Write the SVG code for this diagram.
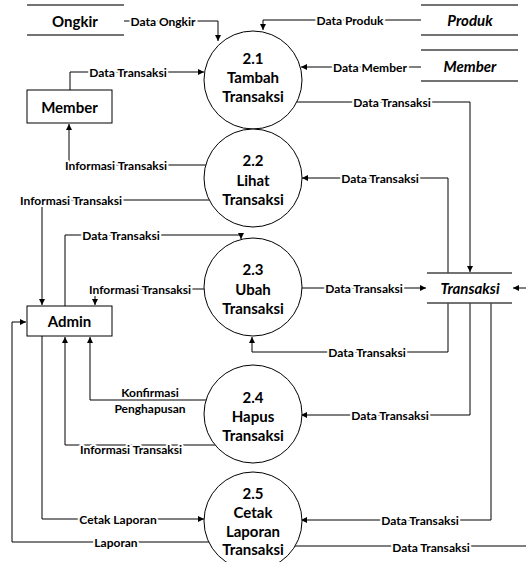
<svg xmlns="http://www.w3.org/2000/svg" width="526" height="562" viewBox="0 0 526 562">
  <defs>
    <marker id="arrow" markerUnits="userSpaceOnUse" markerWidth="6" markerHeight="6" refX="6" refY="3" orient="auto">
      <path d="M0,0 L6,3 L0,6 z" fill="#000"/>
    </marker>
    <style>
      .flow { fill: none; stroke: #000; stroke-width: 1; }
      .arr { marker-end: url(#arrow); }
      .lbl { font-family: Lato, "Liberation Sans", sans-serif; font-weight: bold; font-size: 12px; fill: #000;
             text-anchor: middle; dominant-baseline: central; stroke: #fff; stroke-width: 4px; paint-order: stroke; stroke-linejoin: round; }
      .proc circle { fill: #fff; stroke: #000; stroke-width: 1; }
      .ptxt { font-family: Lato, "Liberation Sans", sans-serif; font-weight: bold; font-size: 15px; fill: #000;
              text-anchor: middle; dominant-baseline: central; }
      .ent rect { fill: #fff; stroke: #000; stroke-width: 1; }
      .store line { stroke: #444; stroke-width: 1.4; }
      .stxt { font-family: Lato, "Liberation Sans", sans-serif; font-weight: bold; font-style: italic; font-size: 15px;
              fill: #000; text-anchor: middle; dominant-baseline: central; }
    </style>
  </defs>
  <rect width="526" height="562" fill="#fff"/>

  <!-- data flows -->
  <g id="connectors">
    <path class="flow arr" d="M124,21 H218 V41"/>
    <text class="lbl" x="163" y="21">Data Ongkir</text>

    <path class="flow arr" d="M421,20 H263 V30"/>
    <text class="lbl" x="350" y="20">Data Produk</text>

    <path class="flow arr" d="M421,67 H301"/>
    <text class="lbl" x="370" y="67">Data Member</text>

    <path class="flow arr" d="M70,90 V72 H204"/>
    <text class="lbl" x="128" y="72">Data Transaksi</text>

    <path class="flow arr" d="M260,102 H470 V272"/>
    <text class="lbl" x="392" y="102">Data Transaksi</text>

    <path class="flow arr" d="M240,165 H69 V124"/>
    <text class="lbl" x="116" y="165">Informasi Transaksi</text>

    <path class="flow arr" d="M240,200 H42 V305"/>
    <text class="lbl" x="71" y="200">Informasi Transaksi</text>

    <path class="flow arr" d="M448,273 V178 H302"/>
    <text class="lbl" x="380" y="178">Data Transaksi</text>

    <path class="flow arr" d="M65,306 V235 H241 V239"/>
    <text class="lbl" x="121" y="235">Data Transaksi</text>

    <path class="flow arr" d="M240,289 H95 V305"/>
    <text class="lbl" x="140" y="289">Informasi Transaksi</text>

    <path class="flow arr" d="M260,288 H426"/>
    <text class="lbl" x="364" y="288">Data Transaksi</text>

    <path class="flow arr" d="M448,303 V352 H252 V337"/>
    <text class="lbl" x="367" y="352">Data Transaksi</text>

    <path class="flow arr" d="M470,303 V415 H301"/>
    <text class="lbl" x="390" y="415">Data Transaksi</text>

    <path class="flow arr" d="M240,400 H90 V337"/>
    <text class="lbl" x="150" y="392">Konfirmasi</text>
    <text class="lbl" x="150" y="408">Penghapusan</text>

    <path class="flow arr" d="M240,445 H65 V337"/>
    <text class="lbl" x="131" y="449">Informasi Transaksi</text>

    <path class="flow arr" d="M42,336 V519 H204"/>
    <text class="lbl" x="118" y="519">Cetak Laporan</text>

    <path class="flow arr" d="M240,542 H12 V322 H26"/>
    <text class="lbl" x="116" y="542">Laporan</text>

    <path class="flow arr" d="M491,303 V520 H301"/>
    <text class="lbl" x="420" y="520">Data Transaksi</text>

    <path class="flow" d="M260,546 H526"/>
    <text class="lbl" x="431" y="547">Data Transaksi</text>

    <path class="flow arr" d="M526,288 H513"/>
  </g>

  <!-- external entities -->
  <g id="member" class="ent">
    <rect x="27" y="90" width="85" height="33"/>
    <text class="ptxt" x="69.5" y="107">Member</text>
  </g>
  <g id="admin" class="ent">
    <rect x="27" y="306" width="85" height="30"/>
    <text class="ptxt" x="69.5" y="321">Admin</text>
  </g>

  <!-- data stores -->
  <g id="store-ongkir" class="store">
    <line x1="27" y1="5" x2="124" y2="5"/>
    <line x1="27" y1="35" x2="124" y2="35"/>
    <text class="ptxt" x="75" y="21">Ongkir</text>
  </g>
  <g id="store-produk" class="store">
    <line x1="421" y1="5" x2="518" y2="5"/>
    <line x1="421" y1="35" x2="518" y2="35"/>
    <text class="stxt" x="470" y="20">Produk</text>
  </g>
  <g id="store-member" class="store">
    <line x1="421" y1="50" x2="518" y2="50"/>
    <line x1="421" y1="81" x2="518" y2="81"/>
    <text class="stxt" x="470" y="66">Member</text>
  </g>
  <g id="store-transaksi" class="store">
    <line x1="427" y1="273" x2="512" y2="273"/>
    <line x1="427" y1="303" x2="512" y2="303"/>
    <text class="stxt" x="470" y="288">Transaksi</text>
  </g>

  <!-- processes -->
  <g id="p2-1" class="proc">
    <circle cx="253" cy="80" r="49"/>
    <text class="ptxt" x="253" y="58">2.1</text>
    <text class="ptxt" x="253" y="77">Tambah</text>
    <text class="ptxt" x="253" y="96">Transaksi</text>
  </g>
  <g id="p2-2" class="proc">
    <circle cx="253" cy="178" r="49"/>
    <text class="ptxt" x="253" y="160">2.2</text>
    <text class="ptxt" x="253" y="180">Lihat</text>
    <text class="ptxt" x="253" y="199">Transaksi</text>
  </g>
  <g id="p2-3" class="proc">
    <circle cx="253" cy="287" r="49"/>
    <text class="ptxt" x="253" y="269">2.3</text>
    <text class="ptxt" x="253" y="289">Ubah</text>
    <text class="ptxt" x="253" y="308">Transaksi</text>
  </g>
  <g id="p2-4" class="proc">
    <circle cx="253" cy="414" r="49"/>
    <text class="ptxt" x="253" y="397">2.4</text>
    <text class="ptxt" x="253" y="416">Hapus</text>
    <text class="ptxt" x="253" y="435">Transaksi</text>
  </g>
  <g id="p2-5" class="proc">
    <circle cx="253" cy="521" r="49"/>
    <text class="ptxt" x="253" y="493">2.5</text>
    <text class="ptxt" x="253" y="512">Cetak</text>
    <text class="ptxt" x="253" y="531">Laporan</text>
    <text class="ptxt" x="253" y="549">Transaksi</text>
  </g>
</svg>
